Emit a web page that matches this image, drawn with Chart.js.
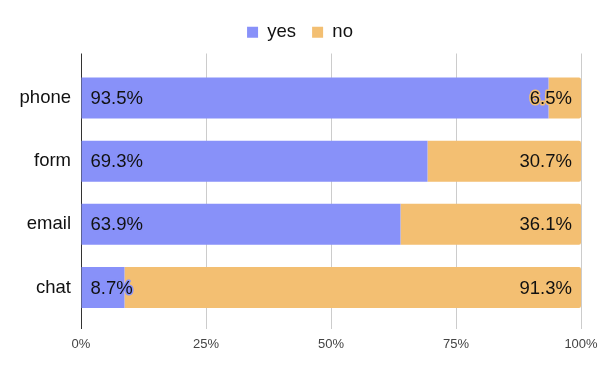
<!DOCTYPE html>
<html lang="en">
<head>
    <meta charset="UTF-8">
    <title>Contact channels</title>
    <script src="https://cdn.jsdelivr.net/npm/chart.js"></script>
    <style>
        html, body { margin: 0; padding: 0; background: #fff; }
        #wrap { width: 600px; height: 371px; }
    </style>
</head>
<body>
    <div id="wrap"><canvas id="chart"></canvas></div>

    <script>
    // Data
    const categories = ['phone', 'form', 'email', 'chat'];
    const yesValues = [93.5, 69.3, 63.9, 8.7];
    const noValues = [6.5, 30.7, 36.1, 91.3];
    const tickValues = [0, 25, 50, 75, 100];

    const BLUE = '#8891f9';
    const ORANGE = '#f3bf72';
    const FONT = "'Liberation Sans', Arial, sans-serif";

    // value labels: yes at the bar start, no at the bar end, with a halo in the bar colour
    const valueLabels = {
        id: 'valueLabels',
        afterDatasetsDraw(chart) {
            const ctx = chart.ctx;
            ctx.save();
            ctx.font = '18.5px ' + FONT;
            ctx.textBaseline = 'middle';
            ctx.lineJoin = 'round';
            ctx.lineWidth = 3;
            chart.data.datasets.forEach((ds, di) => {
                chart.getDatasetMeta(di).data.forEach((bar, i) => {
                    const txt = ds.data[i].toFixed(1) + '%';
                    let x;
                    if (di === 0) {
                        ctx.textAlign = 'left';
                        x = bar.base + 9;
                    } else {
                        ctx.textAlign = 'right';
                        x = bar.x - 9;
                    }
                    ctx.strokeStyle = ds.backgroundColor;
                    ctx.strokeText(txt, x, bar.y + 1);
                    ctx.fillStyle = '#111';
                    ctx.fillText(txt, x, bar.y + 1);
                });
            });
            ctx.restore();
        }
    };

    // centre the legend on the whole canvas, not on the padded width
    const centreLegend = {
        id: 'centreLegend',
        afterLayout(chart) {
            const l = chart.legend;
            if (!l) return;
            l.left = 0;
            l.right = chart.width;
            l.width = chart.width;
        }
    };

    new Chart(document.getElementById('chart'), {
        type: 'bar',
        data: {
            labels: categories,
            datasets: [
                { label: 'yes', data: yesValues, backgroundColor: BLUE, borderRadius: 2 },
                { label: 'no', data: noValues, backgroundColor: ORANGE, borderRadius: 2 }
            ]
        },
        options: {
            indexAxis: 'y',
            responsive: true,
            maintainAspectRatio: false,
            animation: false,
            layout: { padding: { left: 0, right: 19, top: 7, bottom: 0 } },
            datasets: { bar: { categoryPercentage: 1, barPercentage: 0.65 } },
            plugins: {
                legend: {
                    position: 'top',
                    labels: {
                        boxWidth: 11,
                        boxHeight: 11,
                        padding: 16,
                        color: '#111',
                        font: { family: FONT, size: 18.5 }
                    }
                },
                tooltip: { enabled: false }
            },
            scales: {
                x: {
                    stacked: true,
                    min: 0,
                    max: 100,
                    afterBuildTicks: s => { s.ticks = tickValues.map(v => ({ value: v })); },
                    afterFit: s => { s.height = 52; s.paddingRight = 0; s.paddingLeft = 0; },
                    border: { display: false },
                    grid: {
                        color: c => c.tick && c.tick.value === 0 ? '#333' : '#ccc',
                        tickColor: c => c.tick && c.tick.value === 0 ? '#333' : '#ccc',
                        drawTicks: true,
                        tickLength: 10
                    },
                    ticks: {
                        padding: 8,
                        color: '#444',
                        font: { family: FONT, size: 13 },
                        callback: v => v + '%'
                    }
                },
                xTop: {
                    position: 'top',
                    axis: 'x',
                    min: 0,
                    max: 100,
                    afterBuildTicks: s => { s.ticks = tickValues.map(v => ({ value: v })); },
                    afterFit: s => { s.height = 15; s.paddingRight = 0; s.paddingLeft = 0; },
                    border: { display: false },
                    grid: {
                        drawOnChartArea: false,
                        drawTicks: true,
                        tickLength: 13,
                        tickColor: c => c.tick && c.tick.value === 0 ? '#333' : '#ccc'
                    },
                    ticks: { display: false }
                },
                y: {
                    stacked: true,
                    afterFit: s => { s.width = 81; },
                    border: { display: false },
                    grid: { display: false, drawTicks: false },
                    ticks: {
                        padding: 10,
                        color: '#111',
                        font: { family: FONT, size: 18.5 }
                    }
                }
            }
        },
        plugins: [valueLabels, centreLegend]
    });
    </script>
</body>
</html>
